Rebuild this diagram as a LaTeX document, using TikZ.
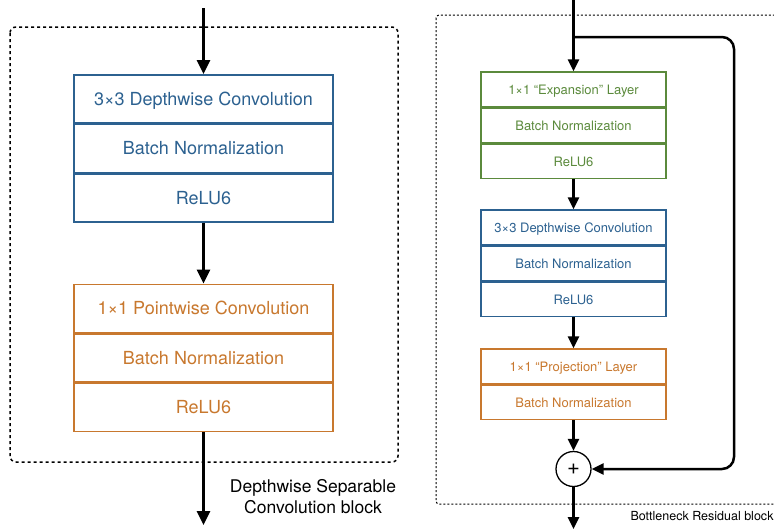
\documentclass[tikz,border=0pt]{standalone}
\usepackage{fontspec}
\setmainfont{TeX Gyre Heros}
\usetikzlibrary{arrows.meta, positioning, calc}
\definecolor{convblue}{RGB}{44,97,144}
\definecolor{convorange}{RGB}{200,120,46}
\definecolor{convgreen}{RGB}{91,138,60}

\tikzset{
  bigrow/.style={draw, line width=1.5pt, minimum width=259pt, minimum height=48pt, inner sep=0pt, text height=13pt, text depth=0pt, font=\fontsize{18}{20}\selectfont},
  smallrow/.style={draw, line width=1.3pt, minimum width=185pt, minimum height=34.7pt, inner sep=0pt, text height=9.4pt, text depth=0pt, font=\fontsize{13}{15}\selectfont},
  flow/.style={line width=3pt, -{Triangle[length=14pt,width=13pt]}},
  thinflow/.style={line width=2.5pt, -{Triangle[length=12pt,width=11pt]}},
}

\begin{document}
\begin{tikzpicture}[x=1pt, y=-1pt]
    \useasboundingbox (0,0) rectangle (774,530);
    \clip (0,0) rectangle (774,530);

    \begin{scope}
        \draw [line width=1.5pt, dash pattern=on 3pt off 3pt, rounded corners=6pt] (10,27) rectangle (398,462);

        \node[bigrow, convblue] (dw1) at (203.5,98.8) {3×3 Depthwise Convolution};
        \node[bigrow, convblue, below=0pt of dw1] (dw2) {Batch Normalization};
        \node[bigrow, convblue, below=0pt of dw2] (dw3) {ReLU6};
        \node[bigrow, convorange] (pw1) at (203.5,308.3) {1×1 Pointwise Convolution};
        \node[bigrow, convorange, below=0pt of pw1] (pw2) {Batch Normalization};
        \node[bigrow, convorange, below=0pt of pw2] (pw3) {ReLU6};

        \coordinate (in1) at (203.5,8);
        \coordinate (out1) at (203.5,525);

        \draw [flow] (in1) -- (dw1.north);
        \draw [flow] (dw3.south) -- (pw1.north);
        \draw [flow] (pw3.south) -- (out1);

        \node[font=\fontsize{17.5}{21}\selectfont, align=center] (lbl1) at (313,497) {Depthwise Separable\\Convolution block};
    \end{scope}

    \begin{scope}
        \draw [line width=1pt, dash pattern=on 2pt off 2pt, rounded corners=3pt] (436,15) rectangle (800,504);

        \node[smallrow, convgreen] (ex1) at (573.5,89.35) {1×1 “Expansion” Layer};
        \node[smallrow, convgreen, below=0pt of ex1] (ex2) {Batch Normalization};
        \node[smallrow, convgreen, below=0pt of ex2] (ex3) {ReLU6};
        \node[smallrow, convblue] (dr1) at (573.5,227.35) {3×3 Depthwise Convolution};
        \node[smallrow, convblue, below=0pt of dr1] (dr2) {Batch Normalization};
        \node[smallrow, convblue, below=0pt of dr2] (dr3) {ReLU6};
        \node[smallrow, convorange] (pr1) at (573.5,366.35) {1×1 “Projection” Layer};
        \node[smallrow, convorange, below=0pt of pr1] (pr2) {Batch Normalization};
        \node[draw, circle, line width=1.3pt, minimum size=35pt, inner sep=0pt, font=\fontsize{22}{22}\selectfont] (add) at (573.5,469) {+};

        \coordinate (in2) at (573.5,-2);
        \coordinate (split) at (573.5,37);
        \coordinate (skip) at (734,37);
        \coordinate (out2) at (573.5,529);

        \draw [thinflow] (in2) -- (ex1.north);
        \draw [thinflow] (ex3.south) -- (dr1.north);
        \draw [thinflow] (dr3.south) -- (pr1.north);
        \draw [thinflow] (pr2.south) -- (add.north);
        \draw [thinflow] (add.south) -- (out2);
        \draw [thinflow, rounded corners=12pt] (split) -- (skip) -- (skip |- add) -- (add.east);

        \node[anchor=west, font=\fontsize{12.5}{14}\selectfont] (lbl2) at (627,516) {Bottleneck Residual block};
    \end{scope}
\end{tikzpicture}
\end{document}
